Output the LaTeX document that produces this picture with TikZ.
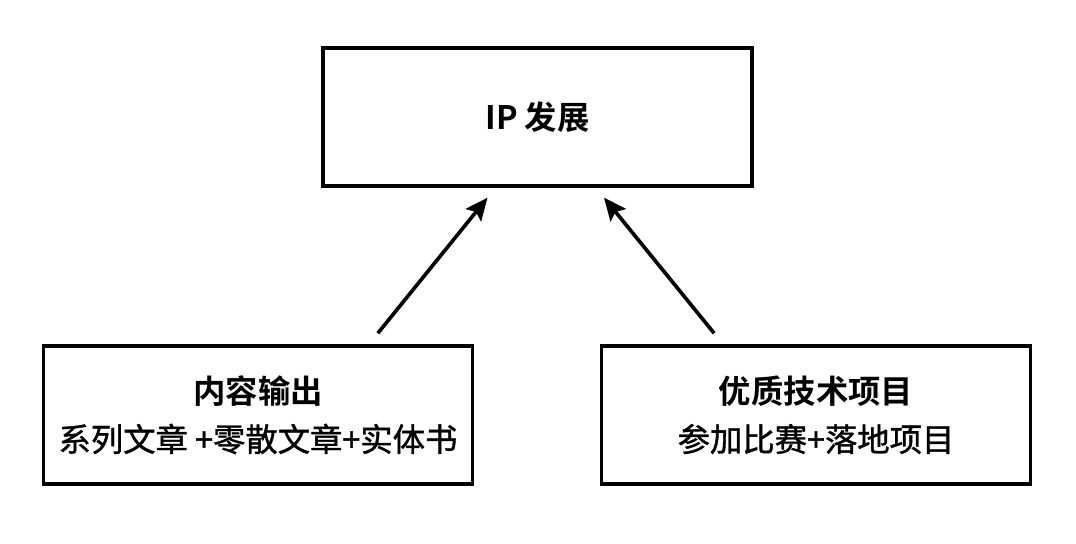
\documentclass[tikz,border=0pt]{standalone}
\usepackage{fontspec}
\setmainfont{Noto Sans CJK SC}[BoldFont={Noto Sans CJK SC Bold}]
\newfontfamily\midfont{Noto Sans CJK SC}[FakeBold=1.2]
\usepackage{tikz}
\usetikzlibrary{arrows.meta,calc}
\tikzset{
  font=\fontsize{23}{34}\selectfont,
  >={Stealth[length=16pt,width=14pt,inset=3pt]},
  box/.style={draw=black, line width=2.6pt, fill=white, align=center,
    minimum width=429*0.025cm, minimum height=138*0.025cm, inner sep=0pt},
  flow/.style={->, line width=2.6pt, draw=black, shorten <=10pt, shorten >=9pt}
}
\begin{document}
\begin{tikzpicture}[x=0.025cm,y=-0.025cm]
  \useasboundingbox (0,0) rectangle (1076,544);

  % goal
  \node[box] (ip) at (537.5,117) {\bfseries IP 发展};

  % sources
  \node[box] (content) at (258,415)
     {{\bfseries 内容输出}\\{\midfont 系列文章 +零散文章+实体书}};
  \node[box] (tech) at (816,415)
     {{\bfseries 优质技术项目}\\{\midfont 参加比赛+落地项目}};

  \draw[flow] ($(content.north)+(111,0)$) -- ($(ip.south)+(-42,0)$);
  \draw[flow] ($(tech.north)+(-93,0)$) -- ($(ip.south)+(58.5,0)$);
\end{tikzpicture}
\end{document}
